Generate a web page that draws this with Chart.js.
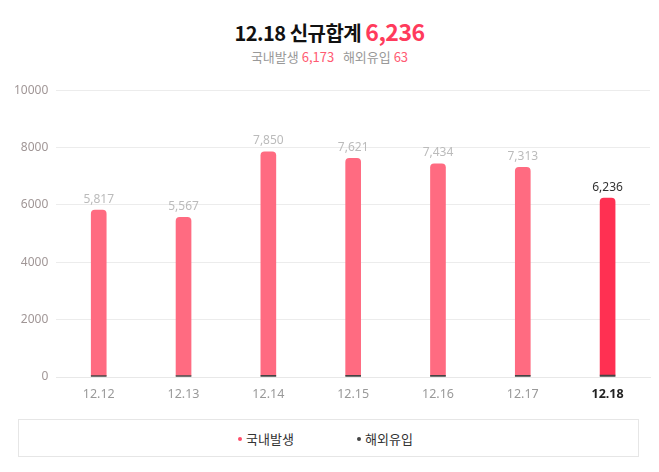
<!DOCTYPE html>
<html>
<head>
<meta charset="utf-8">
<script src="https://cdn.jsdelivr.net/npm/chart.js@4.4.1/dist/chart.umd.min.js"></script>
<style>
  body { margin: 0; background: #fff; font-family: "Noto Sans CJK KR", "Noto Sans", sans-serif; }
  .wrap { position: relative; width: 659px; height: 472px; }
  .title { position: absolute; top: 14px; left: 0; width: 659px; text-align: center; font-size: 20px; font-weight: bold; color: #111; letter-spacing: -0.5px; }
  .title .num { color: #ff3b5c; font-size: 23px; }
  .sub { position: absolute; top: 47px; left: 0; width: 659px; text-align: center; font-size: 13px; color: #999; }
  .sub .num { color: #ff5a72; }
  .chart-box { position: absolute; top: 75px; left: 0; width: 659px; height: 329px; }
  .legend { position: absolute; top: 419px; left: 18px; width: 621px; height: 38px; border: 1px solid #e6e6e6; box-sizing: border-box; font-size: 13px; color: #333; }
  .legend span { position: absolute; top: 9px; }
  .dot { display: inline-block; width: 4px; height: 4px; border-radius: 50%; margin-right: 4px; vertical-align: middle; position: relative; top: -1px; }
</style>
</head>
<body>
<div class="wrap">
  <div class="title">12.18 신규합계 <span class="num">6,236</span></div>
  <div class="sub">국내발생 <span class="num">6,173</span> &nbsp; 해외유입 <span class="num">63</span></div>
  <div class="chart-box"><canvas id="covidChart"></canvas></div>
  <div class="legend">
    <span style="left:219px"><i class="dot" style="background:#ff4d6a"></i>국내발생</span>
    <span style="left:338px"><i class="dot" style="background:#444"></i>해외유입</span>
  </div>
</div>
<script>
const dates = ['12.12', '12.13', '12.14', '12.15', '12.16', '12.17', '12.18'];
const domestic = [5770, 5515, 7790, 7565, 7380, 7255, 6173];
const imported = [47, 52, 60, 56, 54, 58, 63];
const totals = [5817, 5567, 7850, 7621, 7434, 7313, 6236];
const yTicks = [0, 2000, 4000, 6000, 8000, 10000];

const lastIdx = dates.length - 1;

// draw the total above each stacked bar
const totalLabels = {
  id: 'totalLabels',
  afterDatasetsDraw(chart) {
    const ctx = chart.ctx;
    const meta = chart.getDatasetMeta(1);
    ctx.save();
    ctx.font = '12px "Noto Sans", sans-serif';
    ctx.textAlign = 'center';
    ctx.textBaseline = 'bottom';
    meta.data.forEach((bar, i) => {
      ctx.fillStyle = i === lastIdx ? '#333' : '#bbb';
      ctx.fillText(totals[i].toLocaleString('en-US'), bar.x, bar.y - 5);
    });
    ctx.restore();
  }
};

new Chart(document.getElementById('covidChart'), {
  type: 'bar',
  data: {
    labels: dates,
    datasets: [
      {
        label: '해외유입',
        data: imported,
        backgroundColor: '#444',
        barThickness: 15,
        borderSkipped: false,
      },
      {
        label: '국내발생',
        data: domestic,
        backgroundColor: dates.map((d, i) => i === lastIdx ? '#ff3052' : '#ff6b81'),
        barThickness: 15,
        borderRadius: { topLeft: 4, topRight: 4 },
        borderSkipped: 'bottom',
      },
    ],
  },
  options: {
    responsive: true,
    maintainAspectRatio: false,
    animation: false,
    layout: { padding: { left: 6, right: 9, top: 9, bottom: 0 } },
    plugins: {
      legend: { display: false },
      tooltip: { enabled: false },
    },
    scales: {
      x: {
        stacked: true,
        grid: { display: false },
        border: { color: '#e8e8e8' },
        ticks: {
          color: ctx => ctx.index === lastIdx ? '#222' : '#999',
          font: ctx => ({ family: '"Noto Sans", sans-serif', size: 12.5, weight: ctx.index === lastIdx ? 'bold' : 'normal' }),
          padding: 2,
        },
      },
      y: {
        stacked: true,
        min: 0,
        max: 10000,
        afterBuildTicks: axis => { axis.ticks = yTicks.map(v => ({ value: v })); },
        grid: { color: '#ececec', drawTicks: false },
        border: { display: false },
        ticks: {
          color: '#a09696',
          font: { family: '"Noto Sans", sans-serif', size: 12 },
          padding: 8,
          callback: v => String(v),
        },
      },
    },
  },
  plugins: [totalLabels],
});
</script>
</body>
</html>
